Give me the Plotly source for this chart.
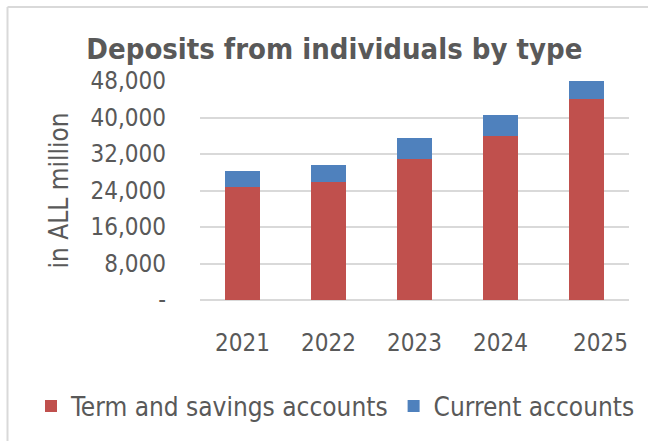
import plotly.graph_objects as go

# Deposits from individuals, in ALL million
years = ["2021", "2022", "2023", "2024", "2025"]
term_savings = [24700, 25900, 30800, 35900, 44000]
current = [3500, 3600, 4600, 4600, 3900]

y_ticks = [0, 8000, 16000, 24000, 32000, 40000, 48000]
y_tick_text = ["-", "8,000", "16,000", "24,000", "32,000", "40,000", "48,000"]

# horizontal nudge (px) for each year label under the axis
year_label_shift = [0, 0, 0, 0, 14]

FONT = "Tahoma, 'DejaVu Sans Condensed', 'Noto Sans', sans-serif"
TEXT = "#595959"
GRID = "#D9D9D9"

fig = go.Figure()
fig.add_trace(go.Bar(
    x=years, y=term_savings, name="Term and savings accounts",
    marker=dict(color="#C0504D", line=dict(width=0)), width=0.41,
))
fig.add_trace(go.Bar(
    x=years, y=current, name="Current accounts",
    marker=dict(color="#4F81BD", line=dict(width=0)), width=0.41,
))

# year labels placed by category index so they don't stretch the axis
annotations = []
for i, (yr, dx) in enumerate(zip(years, year_label_shift)):
    annotations.append(dict(
        x=i, xref="x", y=0, yref="paper", yanchor="top", yshift=-27,
        xshift=dx, text=yr, showarrow=False,
        font=dict(family=FONT, size=24, color=TEXT),
    ))

fig.update_layout(
    width=648, height=441,
    barmode="stack",
    paper_bgcolor="white", plot_bgcolor="white",
    margin=dict(l=200, r=19, t=81, b=141),
    font=dict(family=FONT, size=24, color=TEXT),
    title=dict(
        text="<b>Deposits from individuals by type</b>",
        x=0.516, xanchor="center", xref="container",
        y=0.889, yanchor="middle", yref="container",
        font=dict(family=FONT, size=29, color=TEXT),
    ),
    showlegend=True,
    legend=dict(
        orientation="h", xref="paper", x=(31 - 200) / 429, xanchor="left",
        yref="paper", y=(300 - 406) / 219, yanchor="middle",
        font=dict(family=FONT, size=26, color=TEXT),
        traceorder="normal", itemwidth=30,
    ),
    xaxis=dict(
        type="category", range=[-0.5, 4.5], showticklabels=False,
        showgrid=False, showline=False, ticks="",
    ),
    yaxis=dict(
        range=[0, 48000], tickvals=y_ticks, ticktext=y_tick_text,
        showgrid=True, gridcolor=GRID, gridwidth=2,
        zeroline=True, zerolinecolor=GRID, zerolinewidth=2,
        showline=False, ticks="", ticklabelstandoff=33,
        title=dict(text="in ALL million", standoff=14,
                   font=dict(family=FONT, size=26, color=TEXT)),
    ),
    annotations=annotations,
    shapes=[
        # chart frame (left and top edges visible)
        dict(type="line", xref="paper", yref="paper",
             x0=(7.5 - 200) / 429, x1=(7.5 - 200) / 429,
             y0=(300 - 7) / 219, y1=(300 - 445) / 219,
             line=dict(color=GRID, width=2)),
        dict(type="line", xref="paper", yref="paper",
             x0=(7.5 - 200) / 429, x1=(650 - 200) / 429,
             y0=(300 - 7) / 219, y1=(300 - 7) / 219,
             line=dict(color=GRID, width=2)),
    ],
)

fig.write_html("out.html")
